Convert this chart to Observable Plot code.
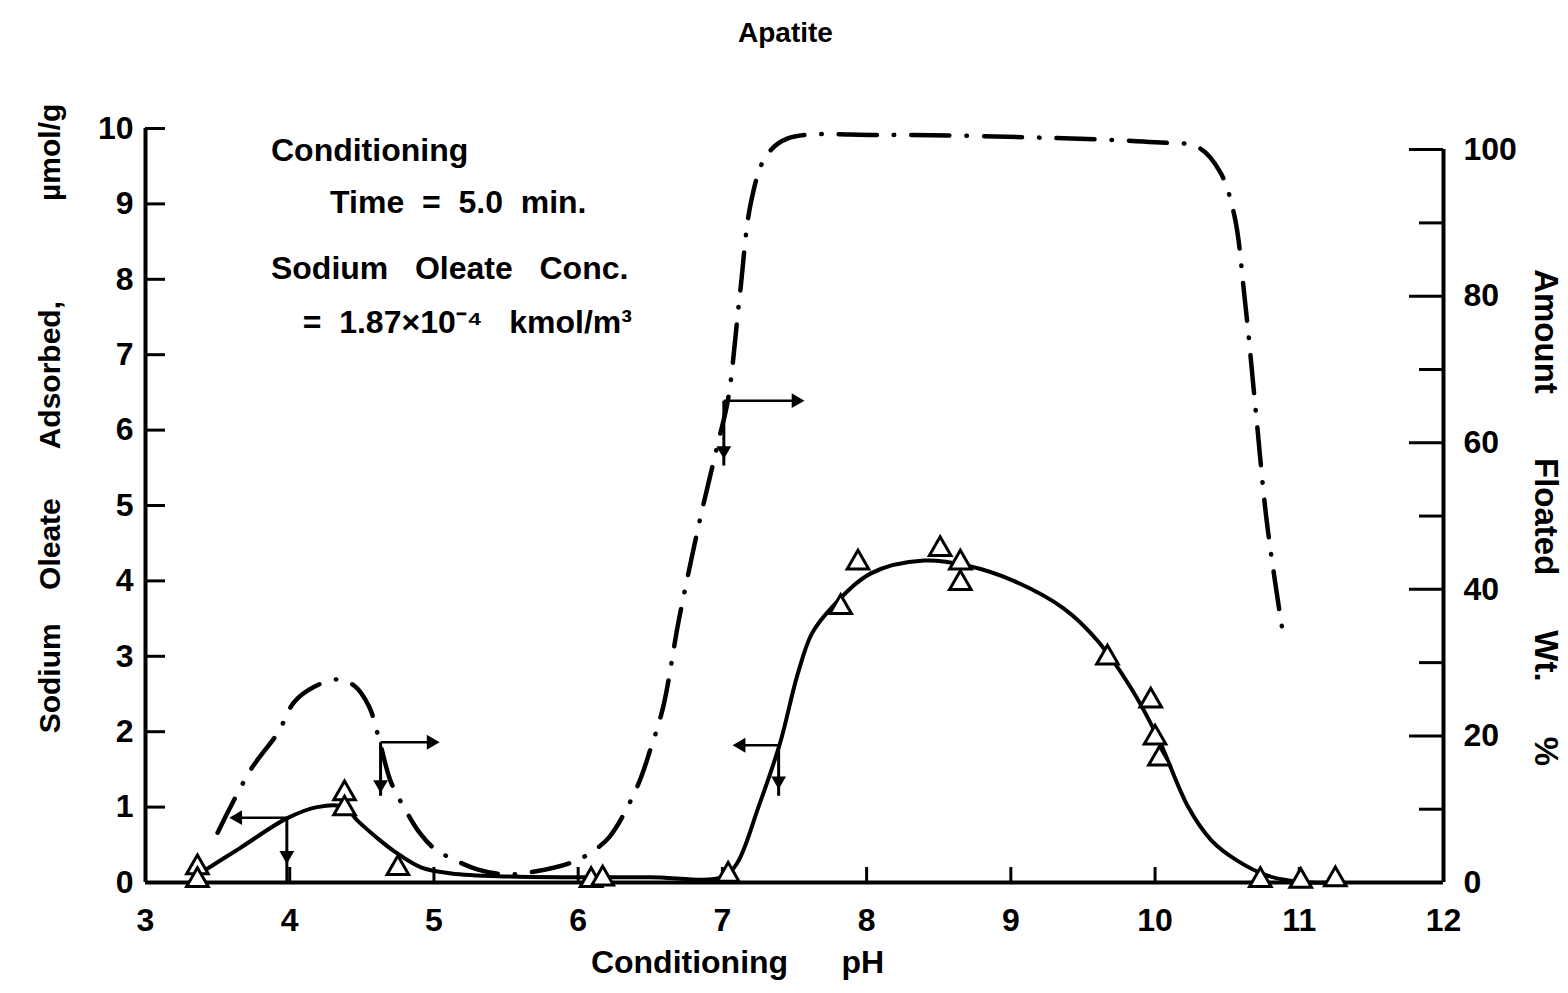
<!DOCTYPE html>
<html><head><meta charset="utf-8">
<script src="https://cdn.jsdelivr.net/npm/d3@7"></script>
<script src="https://cdn.jsdelivr.net/npm/@observablehq/plot@0.6"></script>
<style>body{margin:0;background:#fff} svg text{white-space:pre}</style>
</head><body><div id="chart"></div>
<script>
// ---- data ----
const xTicks = [3,4,5,6,7,8,9,10,11,12];
const yTicks = [0,1,2,3,4,5,6,7,8,9,10];
const rightTicks = [0,10,20,30,40,50,60,70,80,90,100];
const rightLabels = [0,20,40,60,80,100];
const pctToLeft = 0.0972; // right-axis % -> left-axis units

// Sodium oleate adsorbed (triangles), umol/g
const triPH  = [3.36,3.36,4.38,4.38,4.75,6.09,6.17,7.04,7.82,7.94,8.51,8.65,8.65,9.67,9.97,10.0,10.03,10.73,11.01,11.25];
const triAds = [0.2,0.03,1.18,0.98,0.19,0.03,0.05,0.1,3.65,4.24,4.42,4.24,3.97,2.98,2.41,1.92,1.64,0.03,0.02,0.04];

// Adsorption curve (solid)
const adsPH  = [3.36,3.65,3.98,4.19,4.38,4.47,4.6,4.72,4.91,5.12,5.5,6.0,6.5,7.0,7.1,7.25,7.4,7.52,7.62,7.75,8.03,8.4,8.7,9.02,9.37,9.6,9.83,10.02,10.23,10.39,10.57,10.78,11.0,11.3];
const adsVal = [0.1,0.45,0.85,1.0,1.0,0.82,0.6,0.42,0.2,0.12,0.08,0.07,0.07,0.07,0.25,1.0,1.85,2.75,3.3,3.63,4.1,4.27,4.2,4.0,3.63,3.21,2.59,1.92,1.0,0.56,0.29,0.09,0.01,0.0];

// Amount floated (dash-dot), wt %
const fltPH  = [3.5,3.73,3.92,4.03,4.17,4.33,4.45,4.55,4.62,4.7,4.8,4.9,5.01,5.12,5.3,5.5,5.7,5.95,6.09,6.22,6.41,6.5,6.59,6.7,6.85,6.97,7.04,7.12,7.2,7.3,7.45,8.1,9.26,10.0,10.3,10.45,10.55,10.62,10.7,10.77,10.84,10.89];
const fltPct = [6.8,15.4,20.5,24.6,26.7,27.7,26.8,24,19.5,13.8,10,6.8,4.5,3.3,1.8,1.1,1.5,2.7,4.1,6.3,13.1,18.1,24,36,50,60,66,80,93,99,101.5,102,101.6,101,100.3,97,91,80,64,50,40,33.6];

// Axis-pointer arrows (pH, left units)
const arrowFromPH = [3.98,4.63,7.01,7.39];
const arrowFromY  = [0.86,1.86,6.39,1.82];
const arrowToPH   = [3.64,4.98,7.51,7.13];
const arrowDownTo = [0.0,1.15,5.53,1.15];
const arrowDownHead = [0.36,1.3,5.73,1.35];

// Texts
const title = "Apatite";
const xLabel = "Conditioning      pH";
const yLabel = "Sodium    Oleate      Adsorbed,            µmol/g";
const y2Label = "Amount       Floated      Wt.      %";
const notes = ["Conditioning","Time  =  5.0  min.","Sodium   Oleate   Conc.","=  1.87×10⁻⁴   kmol/m³"];
const notePH = [3.87,4.28,3.87,4.09];
const noteY  = [9.71,9.02,8.14,7.43];
const yLabelPos = {x:2.341, y:6.154};
const y2LabelPos = {x:12.709, y:4.84};

// ---- build ----
const W=1568,H=993,mL=145,mR=125,mT=128,mB=111;
const iW=W-mL-mR, iH=H-mT-mB;
const ads = adsPH.map((x,i)=>({x,y:adsVal[i]}));
const flt = fltPH.map((x,i)=>({x,y:fltPct[i]*pctToLeft}));
const tri = triPH.map((x,i)=>({x,y:triAds[i]}));
const arr = arrowFromPH.map((x,i)=>({x,y:arrowFromY[i],x2:arrowToPH[i],yd:arrowDownTo[i],yh:arrowDownHead[i],dir:arrowToPH[i]>x?90:-90}));
const nts = notes.map((t,i)=>({t,x:notePH[i],y:noteY[i]}));

const chart = Plot.plot({
  width:W,height:H,marginLeft:mL,marginRight:mR,marginTop:mT,marginBottom:mB,
  x:{domain:[3,12]}, y:{domain:[0,10]},
  style:{fontFamily:"'Liberation Sans', Arial, sans-serif",fontSize:"32px",fontWeight:"bold",background:"#fff",color:"#000"},
  marks:[
    // axes lines
    Plot.ruleX([3],{y1:0,y2:10,strokeWidth:4}),
    Plot.ruleX([12],{y1:0,y2:100*pctToLeft,strokeWidth:4}),
    Plot.ruleY([0],{x1:3,x2:12,strokeWidth:4}),
    // ticks
    Plot.tickX(xTicks.slice(1,-1),{insetTop:iH-15,strokeWidth:3}),
    Plot.tickY(yTicks,{insetRight:iW-20,strokeWidth:3}),
    Plot.tickY(rightTicks.filter(d=>d%20===0),{y:d=>d*pctToLeft,insetLeft:iW-34,strokeWidth:3}),
    Plot.tickY(rightTicks.filter(d=>d%20!==0),{y:d=>d*pctToLeft,insetLeft:iW-24,strokeWidth:3}),
    Plot.axisX(xTicks,{tickSize:0,tickPadding:26,label:null,fontSize:32,tickFormat:d=>String(d)}),
    Plot.axisY(yTicks,{tickSize:0,tickPadding:12,label:null,fontSize:32,tickFormat:d=>String(d)}),
    Plot.text(rightLabels,{x:12,y:d=>d*pctToLeft,text:d=>String(d),textAnchor:"start",dx:20,fontSize:32}),
    // curves
    Plot.line(flt,{x:"x",y:"y",curve:"catmull-rom",stroke:"#000",strokeWidth:4.5,strokeDasharray:"38,17,0.5,17",strokeLinecap:"round"}),
    Plot.line(ads,{x:"x",y:"y",curve:"catmull-rom",stroke:"#000",strokeWidth:4}),
    Plot.dot(tri,{x:"x",y:"y",symbol:"triangle",r:8,stroke:"#000",strokeWidth:3,fill:"#fff"}),
    // arrows
    Plot.link(arr,{x1:"x",y1:"y",x2:"x2",y2:"y",strokeWidth:2.5}),
    Plot.dot(arr,{x:"x2",y:"y",symbol:"triangle",r:5.5,fill:"#000",rotate:"dir"}),
    Plot.link(arr,{x1:"x",y1:"y",x2:"x",y2:"yd",strokeWidth:3}),
    Plot.dot(arr,{x:"x",y:"yh",symbol:"triangle",r:5.5,fill:"#000",rotate:180}),
    // notes
    Plot.text(nts,{x:"x",y:"y",text:"t",textAnchor:"start",fontSize:32}),
    // titles
    Plot.text([title],{frameAnchor:"top",dy:-106,dx:-9,fontSize:28}),
    Plot.text([xLabel],{frameAnchor:"bottom",dy:90,dx:-57,fontSize:32}),
    Plot.text([yLabel],{x:yLabelPos.x,y:yLabelPos.y,rotate:-90,fontSize:30}),
    Plot.text([y2Label],{x:y2LabelPos.x,y:y2LabelPos.y,rotate:90,fontSize:33})
  ]
});
document.getElementById("chart").appendChild(chart);
</script>
</body></html>
